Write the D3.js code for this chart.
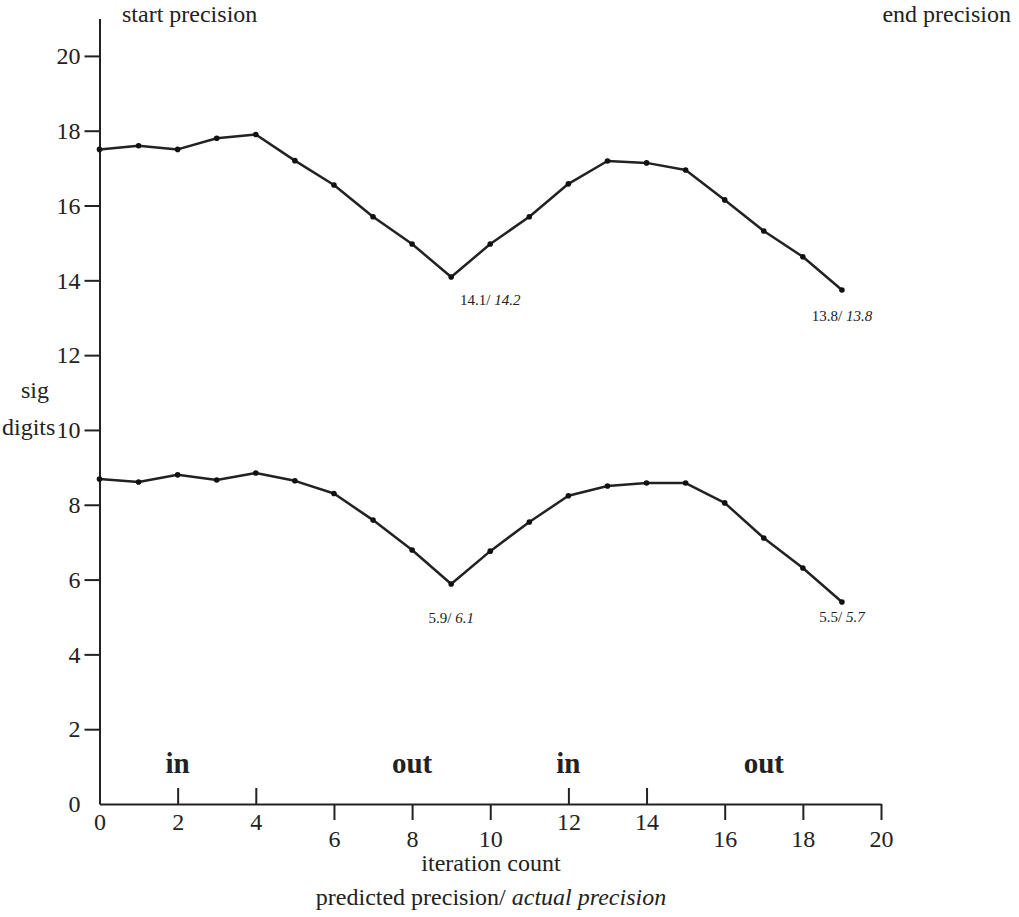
<!DOCTYPE html>
<html>
<head>
<meta charset="utf-8">
<script src="https://cdn.jsdelivr.net/npm/d3@7"></script>
<style>
  body { margin: 0; background: #fff; }
  svg { font-family: "Liberation Serif", "Times New Roman", serif; }
  .axis path, .axis line { stroke: #222; stroke-width: 2px; }
  .axis text { fill: #222; font-size: 24px; font-family: "Liberation Serif", serif; }
</style>
</head>
<body>
<div id="vis1"></div>
<script>
const FRAME_WIDTH = 1019;
const FRAME_HEIGHT = 917;

// data
const ITERATIONS = d3.range(0, 20);
const START_PREC = [17.5, 17.6, 17.5, 17.8, 17.9, 17.2, 16.55, 15.7, 14.97, 14.09,
                    14.97, 15.7, 16.58, 17.19, 17.14, 16.95, 16.15, 15.32, 14.63, 13.74];
const END_PREC = [8.69, 8.61, 8.8, 8.66, 8.85, 8.64, 8.3, 7.59, 6.79, 5.88,
                  6.76, 7.54, 8.24, 8.5, 8.58, 8.58, 8.05, 7.11, 6.31, 5.4];

const X_TICKS = [0, 2, 4, 6, 8, 10, 12, 14, 16, 18, 20];
const IN_TICKS = [0, 2, 4, 12, 14];
const Y_TICKS = [0, 2, 4, 6, 8, 10, 12, 14, 16, 18, 20];

const PHASE_LABELS = ['in', 'out', 'in', 'out'];
const PHASE_AT = [2, 8, 12, 17];

// annotations: iteration, predicted, actual, which series
const ANN_AT = [9, 19, 9, 19];
const ANN_PRED = ['14.1', '13.8', '5.9', '5.5'];
const ANN_ACT = ['14.2', '13.8', '6.1', '5.7'];
const ANN_SERIES = [START_PREC, START_PREC, END_PREC, END_PREC];
// label offsets (px) from the point
const ANN_DX = [39, 0, 0, 0];
const ANN_DY = [28, 31, 39, 20];

const X_SCALE = d3.scaleLinear().domain([0, 20]).range([99.5, 881]);
const Y_SCALE = d3.scaleLinear().domain([0, 21]).range([804, 18.5]);

const FRAME1 = d3.select('#vis1')
  .append('svg')
    .attr('width', FRAME_WIDTH)
    .attr('height', FRAME_HEIGHT);

// y axis
FRAME1.append('g')
  .attr('class', 'axis')
  .attr('transform', 'translate(' + X_SCALE(0) + ',0)')
  .call(d3.axisLeft(Y_SCALE).tickValues(Y_TICKS).tickSize(15).tickSizeOuter(0).tickPadding(4));

// x axis: "in" ticks point up, the rest point down
const xUp = X_TICKS.filter(d => IN_TICKS.includes(d));
const xDown = X_TICKS.filter(d => !IN_TICKS.includes(d));

FRAME1.append('g')
  .attr('class', 'axis')
  .attr('transform', 'translate(0,' + Y_SCALE(0) + ')')
  .call(d3.axisBottom(X_SCALE).tickValues(xUp).tickSize(-16).tickSizeOuter(0).tickPadding(9));

FRAME1.append('g')
  .attr('class', 'axis')
  .attr('transform', 'translate(0,' + Y_SCALE(0) + ')')
  .call(d3.axisBottom(X_SCALE).tickValues(xDown).tickSize(16).tickSizeOuter(0).tickPadding(10))
  .call(g => g.select('.domain').remove());

FRAME1.selectAll('.axis .tick').filter(d => d === 0).select('line').remove();

// lines and points
const line = d3.line()
  .x((d, i) => X_SCALE(ITERATIONS[i]))
  .y(d => Y_SCALE(d));

[START_PREC, END_PREC].forEach(series => {
  FRAME1.append('path')
    .datum(series)
    .attr('d', line)
    .attr('fill', 'none')
    .attr('stroke', '#222')
    .attr('stroke-width', 2.5)
    .attr('stroke-linejoin', 'round');

  FRAME1.selectAll(null)
    .data(series)
    .enter()
    .append('circle')
      .attr('cx', (d, i) => X_SCALE(ITERATIONS[i]))
      .attr('cy', d => Y_SCALE(d))
      .attr('r', 2.8)
      .attr('fill', '#111');
});

// annotations
ANN_AT.forEach((it, k) => {
  const t = FRAME1.append('text')
    .attr('x', X_SCALE(it) + ANN_DX[k])
    .attr('y', Y_SCALE(ANN_SERIES[k][it]) + ANN_DY[k])
    .attr('text-anchor', 'middle')
    .attr('font-size', '15px')
    .attr('fill', '#222');
  t.append('tspan').text(ANN_PRED[k] + '/ ');
  t.append('tspan').attr('font-style', 'italic').text(ANN_ACT[k]);
});

// in / out phase labels
FRAME1.selectAll('.phase')
  .data(PHASE_LABELS)
  .enter()
  .append('text')
    .attr('class', 'phase')
    .attr('x', (d, i) => X_SCALE(PHASE_AT[i]))
    .attr('y', 773)
    .attr('text-anchor', 'middle')
    .attr('font-size', '29px')
    .attr('font-weight', 'bold')
    .attr('fill', '#222')
    .text(d => d);

// titles and axis labels
FRAME1.append('text')
  .attr('x', 122).attr('y', 22)
  .attr('font-size', '24px').attr('fill', '#222')
  .text('start precision');

FRAME1.append('text')
  .attr('x', 1011).attr('y', 22)
  .attr('text-anchor', 'end')
  .attr('font-size', '24px').attr('fill', '#222')
  .text('end precision');

FRAME1.append('text')
  .attr('x', 35).attr('y', 398)
  .attr('text-anchor', 'middle')
  .attr('font-size', '24px').attr('fill', '#222')
  .text('sig');

FRAME1.append('text')
  .attr('x', 2).attr('y', 435)
  .attr('font-size', '24px').attr('fill', '#222')
  .text('digits');

FRAME1.append('text')
  .attr('x', 491).attr('y', 871)
  .attr('text-anchor', 'middle')
  .attr('font-size', '24px').attr('fill', '#222')
  .text('iteration count');

const foot = FRAME1.append('text')
  .attr('x', 491).attr('y', 905)
  .attr('text-anchor', 'middle')
  .attr('font-size', '24px').attr('fill', '#222');
foot.append('tspan').text('predicted precision/ ');
foot.append('tspan').attr('font-style', 'italic').text('actual precision');
</script>
</body>
</html>
